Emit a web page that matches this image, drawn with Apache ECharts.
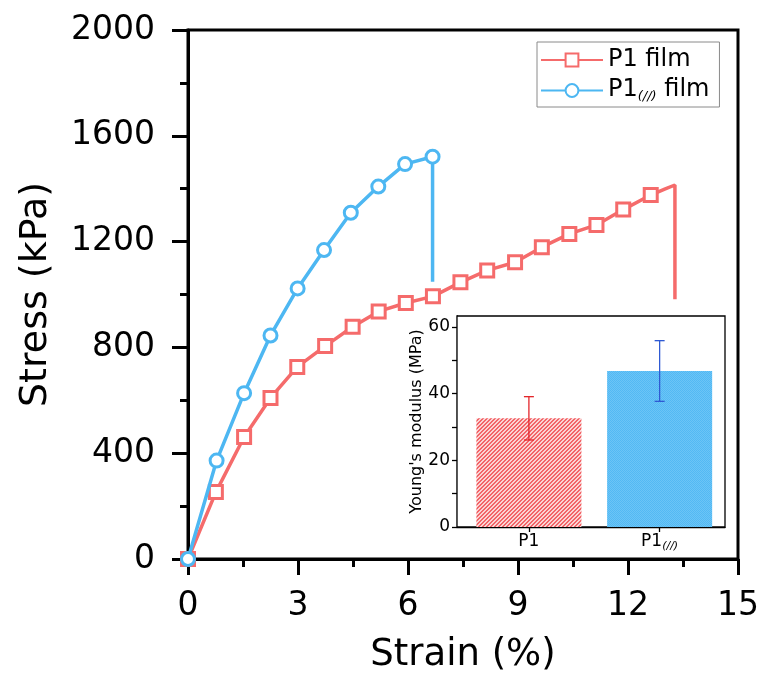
<!DOCTYPE html>
<html>
<head>
<meta charset="utf-8">
<script src="https://cdn.jsdelivr.net/npm/echarts@6/dist/echarts.min.js"></script>
<style>
  html, body { margin: 0; padding: 0; background: #fff; }
  #chart { width: 765px; height: 680px; }
</style>
</head>
<body>
<div id="chart"></div>
<script>
// Tensile curves: strain (%) vs stress (kPa); marked points first, then the fracture tail.
const p1Strain = [0, 0.76, 1.53, 2.25, 2.98, 3.74, 4.49, 5.20, 5.94, 6.68, 7.43, 8.16, 8.92, 9.65, 10.40, 11.14, 11.87, 12.62];
const p1Stress = [0, 253, 461, 609, 726, 805, 878, 936, 968, 993, 1046, 1091, 1122, 1179, 1229, 1263, 1321, 1376];
const p1TailStrain = [13.00, 13.28, 13.28];
const p1TailStress = [1398, 1414, 982];

const p1OrStrain = [0, 0.78, 1.53, 2.25, 2.99, 3.71, 4.44, 5.19, 5.92, 6.67];
const p1OrStress = [0, 372, 627, 845, 1023, 1168, 1309, 1408, 1493, 1521];
const p1OrTailStrain = [6.67];
const p1OrTailStress = [1048];

const seriesNames = ['P1 film', 'P1(//) film'];

// Axis ranges
const strainRange = [0, 15, 3];
const stressRange = [0, 2000, 400];

// Inset: Young's modulus (MPa), mean and error
const modulusSamples = ['P1', 'P1(//)'];
const modulusMean = [32.6, 46.8];
const modulusErr = [6.5, 9.1];
const modulusTicks = [0, 20, 40, 60];

const RED = '#F56B6B';
const BLUE = '#4DB7F2';
const FONT = 'DejaVu Sans';

function curve(xs, ys, tx, ty) {
  const pts = xs.map((x, i) => [x, ys[i]]);
  tx.forEach((x, i) => pts.push({ value: [x, ty[i]], symbol: 'none' }));
  return pts;
}

function pattern(size, colorAt) {
  const c = document.createElement('canvas');
  c.width = size; c.height = size;
  const ctx = c.getContext('2d');
  for (let y = 0; y < size; y++) {
    for (let x = 0; x < size; x++) {
      ctx.fillStyle = colorAt(x, y);
      ctx.fillRect(x, y, 1, 1);
    }
  }
  return { image: c, repeat: 'repeat' };
}
// diagonal hatch for P1, fine checker for P1(//)
const hatchRed = pattern(4, (x, y) => ((x + y) % 4 < 2 ? '#F26468' : '#FBD3D3'));
const checkBlue = pattern(2, (x, y) => ((x + y) % 2 === 0 ? '#52B9F4' : '#6CC4F6'));

const chart = echarts.init(document.getElementById('chart'), null, { renderer: 'canvas' });

const richSub = {
  a: { fontFamily: FONT, fontSize: 24, color: '#000', verticalAlign: 'top' },
  s: { fontFamily: FONT, fontSize: 13, fontStyle: 'italic', color: '#000', verticalAlign: 'top', padding: [12, 0, 0, 0] }
};

chart.setOption({
  animation: false,
  backgroundColor: '#fff',
  grid: [
    { left: 188, top: 30, right: 27, bottom: 121, show: true, borderColor: '#000', borderWidth: 3, backgroundColor: 'transparent' },
    { left: 457, top: 316, right: 40, bottom: 153, show: true, borderColor: '#000', borderWidth: 1.3, backgroundColor: '#fff', z: 3 }
  ],
  legend: {
    data: seriesNames,
    left: 537, top: 42,
    orient: 'vertical',
    itemWidth: 62, itemHeight: 16, itemGap: 6,
    padding: [6, 10, 4, 3],
    borderColor: '#8a8a8a', borderWidth: 1,
    backgroundColor: '#fff',
    formatter: name => name === seriesNames[1] ? '{a|P1}{s|(//)}{a| film}' : '{a|' + name + '}',
    textStyle: { fontFamily: FONT, fontSize: 24, color: '#000', rich: richSub }
  },
  xAxis: [
    {
      type: 'value', gridIndex: 0,
      min: strainRange[0], max: strainRange[1], interval: strainRange[2],
      name: 'Strain (%)', nameLocation: 'middle', nameGap: 78,
      nameTextStyle: { fontFamily: FONT, fontSize: 37, color: '#000' },
      axisLine: { show: true, lineStyle: { color: '#000', width: 3 } },
      axisTick: { show: true, inside: false, length: 16, lineStyle: { color: '#000', width: 3 } },
      minorTick: { show: true, splitNumber: 2, length: 8, lineStyle: { color: '#000', width: 3 } },
      axisLabel: { fontFamily: FONT, fontSize: 33, color: '#000', margin: 31, formatter: v => String(v) },
      splitLine: { show: false }
    },
    {
      type: 'value', gridIndex: 1,
      min: 0.45, max: 2.5,
      axisLine: { show: true, onZero: false, lineStyle: { color: '#000', width: 1.3 } },
      axisTick: { show: true, inside: false, length: 5, customValues: [1, 2], lineStyle: { color: '#000', width: 1.3 } },
      axisLabel: {
        customValues: [1, 2], margin: 6,
        formatter: v => {
          const name = modulusSamples[Math.round(v) - 1];
          return name === 'P1(//)' ? '{a|P1}{s|(//)}' : '{a|' + name + '}';
        },
        rich: {
          a: { fontFamily: FONT, fontSize: 17, color: '#000', verticalAlign: 'top' },
          s: { fontFamily: FONT, fontSize: 11, fontStyle: 'italic', color: '#000', verticalAlign: 'top', padding: [8, 0, 0, 0] }
        }
      },
      splitLine: { show: false }
    }
  ],
  yAxis: [
    {
      type: 'value', gridIndex: 0,
      min: stressRange[0], max: stressRange[1], interval: stressRange[2],
      name: 'Stress (kPa)', nameLocation: 'middle', nameGap: 133, nameRotate: 90,
      nameTextStyle: { fontFamily: FONT, fontSize: 38, color: '#000' },
      axisLine: { show: true, lineStyle: { color: '#000', width: 3 } },
      axisTick: { show: true, inside: false, length: 16, lineStyle: { color: '#000', width: 3 } },
      minorTick: { show: true, splitNumber: 2, length: 8, lineStyle: { color: '#000', width: 3 } },
      axisLabel: { fontFamily: FONT, fontSize: 33, color: '#000', margin: 33, formatter: v => String(v) },
      splitLine: { show: false }
    },
    {
      type: 'value', gridIndex: 1,
      min: 0, max: 63.3,
      name: "Young's modulus (MPa)", nameLocation: 'middle', nameGap: 32, nameRotate: 90,
      nameTextStyle: { fontFamily: FONT, fontSize: 16, color: '#000' },
      axisLine: { show: true, lineStyle: { color: '#000', width: 1.3 } },
      axisTick: { show: true, inside: false, length: 5, customValues: [0, 10, 20, 30, 40, 50, 60], lineStyle: { color: '#000', width: 1.3 } },
      axisLabel: { customValues: modulusTicks, fontFamily: FONT, fontSize: 17, color: '#000', margin: 7 },
      splitLine: { show: false }
    }
  ],
  series: [
    {
      name: seriesNames[0], type: 'line', xAxisIndex: 0, yAxisIndex: 0,
      data: curve(p1Strain, p1Stress, p1TailStrain, p1TailStress),
      symbol: 'rect', symbolSize: 13, showAllSymbol: true,
      lineStyle: { color: RED, width: 3.5 },
      itemStyle: { color: '#fff', borderColor: RED, borderWidth: 3 },
      z: 2
    },
    {
      name: seriesNames[1], type: 'line', xAxisIndex: 0, yAxisIndex: 0,
      data: curve(p1OrStrain, p1OrStress, p1OrTailStrain, p1OrTailStress),
      symbol: 'circle', symbolSize: 13, showAllSymbol: true,
      lineStyle: { color: BLUE, width: 3.5 },
      itemStyle: { color: '#fff', borderColor: BLUE, borderWidth: 3 },
      z: 3
    },
    {
      type: 'bar', xAxisIndex: 1, yAxisIndex: 1,
      barWidth: 105,
      data: modulusMean.map((m, i) => ({
        value: [i + 1, m],
        itemStyle: { color: i === 0 ? hatchRed : checkBlue }
      })),
      z: 4
    },
    {
      type: 'custom', xAxisIndex: 1, yAxisIndex: 1,
      data: modulusMean.map((m, i) => [i + 1, m - modulusErr[i], m + modulusErr[i]]),
      renderItem: (params, api) => {
        const x = api.value(0);
        const lo = api.coord([x, api.value(1)]);
        const hi = api.coord([x, api.value(2)]);
        const stroke = params.dataIndex === 0 ? '#E3262B' : '#2F5AD3';
        const st = { stroke: stroke, lineWidth: 1.3 };
        const cap = 5;
        return {
          type: 'group',
          children: [
            { type: 'line', shape: { x1: hi[0], y1: hi[1], x2: lo[0], y2: lo[1] }, style: st },
            { type: 'line', shape: { x1: hi[0] - cap, y1: hi[1], x2: hi[0] + cap, y2: hi[1] }, style: st },
            { type: 'line', shape: { x1: lo[0] - cap, y1: lo[1], x2: lo[0] + cap, y2: lo[1] }, style: st }
          ]
        };
      },
      z: 5
    }
  ]
});
</script>
</body>
</html>
